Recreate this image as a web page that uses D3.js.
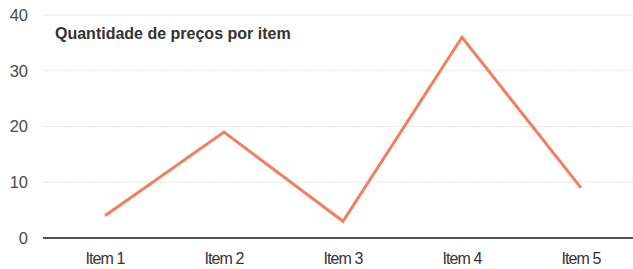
<!DOCTYPE html>
<html>
<head>
<meta charset="utf-8">
<script src="https://cdn.jsdelivr.net/npm/d3@7"></script>
<style>
  body { margin: 0; background: #fff; }
  svg { display: block; font-family: "Liberation Sans", Arial, sans-serif; }
</style>
</head>
<body>
<svg id="chart"></svg>
<script>
// data
var items = ["Item 1", "Item 2", "Item 3", "Item 4", "Item 5"];
var counts = [4, 19, 3, 36, 9];
var yTicks = [0, 10, 20, 30, 40];
var title = "Quantidade de preços por item";

var width = 633,
    height = 269;

var svg = d3.select("#chart")
    .attr("width", width)
    .attr("height", height);

var x = d3.scalePoint()
    .domain(items)
    .range([105, 581]);

var y = d3.scaleLinear()
    .domain([0, 40])
    .range([238, 15]);

// gridlines
svg.append("g")
  .selectAll("line")
  .data(yTicks.filter(function(d) { return d > 0; }))
  .enter().append("line")
    .attr("x1", 43)
    .attr("x2", width)
    .attr("y1", function(d) { return y(d); })
    .attr("y2", function(d) { return y(d); })
    .attr("stroke", "#e2e2e2")
    .attr("stroke-width", 1)
    .attr("stroke-dasharray", "2,1");

// y labels
svg.append("g")
  .selectAll("text")
  .data(yTicks)
  .enter().append("text")
    .attr("x", 28)
    .attr("y", function(d) { return y(d); })
    .attr("dy", "0.36em")
    .attr("text-anchor", "end")
    .attr("fill", "#4a4a4a")
    .attr("font-size", 16.5)
    .text(function(d) { return d; });

// baseline
svg.append("line")
    .attr("x1", 43)
    .attr("x2", width)
    .attr("y1", y(0))
    .attr("y2", y(0))
    .attr("stroke", "#505050")
    .attr("stroke-width", 2);

// x labels
svg.append("g")
  .selectAll("text")
  .data(items)
  .enter().append("text")
    .attr("x", function(d) { return x(d); })
    .attr("y", 264)
    .attr("text-anchor", "middle")
    .attr("fill", "#333")
    .attr("font-size", 16)
    .attr("letter-spacing", -0.9)
    .text(function(d) { return d; });

// line
var line = d3.line()
    .x(function(d, i) { return x(items[i]); })
    .y(function(d) { return y(d); });

svg.append("path")
    .datum(counts)
    .attr("d", line)
    .attr("fill", "none")
    .attr("stroke", "#f07f62")
    .attr("stroke-width", 3)
    .attr("stroke-linejoin", "miter");

svg.append("text")
    .attr("x", 55)
    .attr("y", 39)
    .attr("font-size", 16)
    .attr("font-weight", "bold")
    .attr("fill", "#333")
    .text(title);
</script>
</body>
</html>
